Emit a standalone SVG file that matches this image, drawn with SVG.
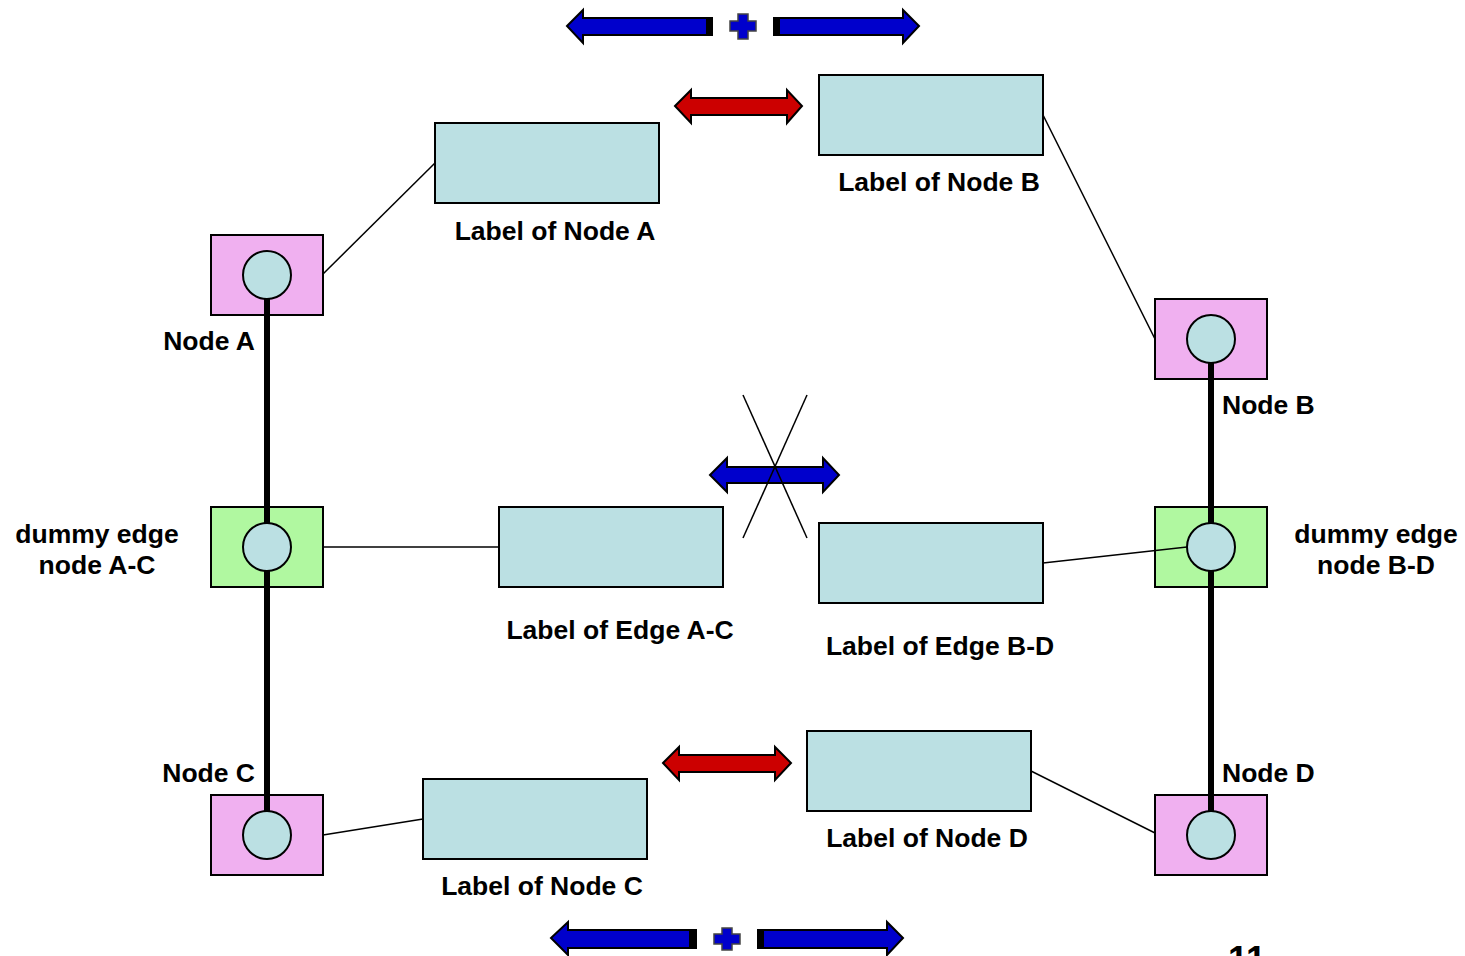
<svg xmlns="http://www.w3.org/2000/svg" width="1465" height="956" viewBox="0 0 1465 956">
<style>
.bg{fill:#ffffff}
.pink{fill:#F0B0F0;stroke:#000;stroke-width:2}
.green{fill:#B0F8A0;stroke:#000;stroke-width:2}
.lbl{fill:#BBE0E3;stroke:#000;stroke-width:2}
.circ{fill:#BBE0E3;stroke:#000;stroke-width:2}
.thin{stroke:#000;stroke-width:1.5;fill:none}
.thick{stroke:#000;stroke-width:6;fill:none}
.t{font-family:"Liberation Sans",Arial,sans-serif;font-weight:bold;font-size:26.5px;fill:#000}
.blue{fill:#0000CC;stroke:#000;stroke-width:2;stroke-linejoin:miter}
.red{fill:#CC0000;stroke:#000;stroke-width:2}
.plus{fill:#0000CC;stroke:#444;stroke-width:1.5}
.blk{fill:#000}
</style>
<rect class="bg" x="0" y="0" width="1465" height="956"/>

<g id="nodeA"><rect class="pink" x="211" y="235" width="112" height="80"/><text class="t" x="255" y="350" text-anchor="end">Node A</text></g>
<g id="dummyAC"><rect class="green" x="211" y="507" width="112" height="80"/><text class="t" x="97" y="543" text-anchor="middle">dummy edge</text><text class="t" x="97" y="574" text-anchor="middle">node A-C</text></g>
<g id="nodeC"><rect class="pink" x="211" y="795" width="112" height="80"/><text class="t" x="255" y="782" text-anchor="end">Node C</text></g>
<g id="nodeB"><rect class="pink" x="1155" y="299" width="112" height="80"/><text class="t" x="1222" y="414">Node B</text></g>
<g id="dummyBD"><rect class="green" x="1155" y="507" width="112" height="80"/><text class="t" x="1376" y="543" text-anchor="middle">dummy edge</text><text class="t" x="1376" y="574" text-anchor="middle">node B-D</text></g>
<g id="nodeD"><rect class="pink" x="1155" y="795" width="112" height="80"/><text class="t" x="1222" y="782">Node D</text></g>

<g id="connectors">
  <line class="thin" x1="323" y1="274" x2="435" y2="163"/>
  <line class="thin" x1="1043" y1="115" x2="1155" y2="339"/>
  <line class="thin" x1="323" y1="547" x2="499" y2="547"/>
  <line class="thin" x1="1043" y1="563" x2="1187" y2="547"/>
  <line class="thin" x1="323" y1="835" x2="423" y2="819"/>
  <line class="thin" x1="1031" y1="771" x2="1155" y2="833"/>
  <line class="thick" x1="267" y1="275" x2="267" y2="835"/>
  <line class="thick" x1="1211" y1="339" x2="1211" y2="835"/>
</g>

<g id="circles">
  <circle class="circ" cx="267" cy="275" r="24"/>
  <circle class="circ" cx="267" cy="547" r="24"/>
  <circle class="circ" cx="267" cy="835" r="24"/>
  <circle class="circ" cx="1211" cy="339" r="24"/>
  <circle class="circ" cx="1211" cy="547" r="24"/>
  <circle class="circ" cx="1211" cy="835" r="24"/>
</g>

<g id="labelNodeA"><rect class="lbl" x="435" y="123" width="224" height="80"/><text class="t" x="555" y="240" text-anchor="middle">Label of Node A</text></g>
<g id="labelNodeB"><rect class="lbl" x="819" y="75" width="224" height="80"/><text class="t" x="939" y="191" text-anchor="middle">Label of Node B</text></g>
<g id="labelEdgeAC"><rect class="lbl" x="499" y="507" width="224" height="80"/><text class="t" x="620" y="639" text-anchor="middle">Label of Edge A-C</text></g>
<g id="labelEdgeBD"><rect class="lbl" x="819" y="523" width="224" height="80"/><text class="t" x="940" y="655" text-anchor="middle">Label of Edge B-D</text></g>
<g id="labelNodeD"><rect class="lbl" x="807" y="731" width="224" height="80"/><text class="t" x="927" y="847" text-anchor="middle">Label of Node D</text></g>
<g id="labelNodeC"><rect class="lbl" x="423" y="779" width="224" height="80"/><text class="t" x="542" y="895" text-anchor="middle">Label of Node C</text></g>

<g id="arrowsTop">
  <polygon class="blue" points="567,26 583,10 583,18 712,18 712,35 583,35 583,43"/>
  <rect class="blk" x="706" y="18" width="6" height="17"/>
  <path class="plus" d="M738,14 H748 V21 H756 V31 H748 V39 H738 V31 H730 V21 H738 Z"/>
  <polygon class="blue" points="919,26 903,10 903,18 774,18 774,35 903,35 903,43"/>
  <rect class="blk" x="774" y="18" width="6" height="17"/>
</g>

<g id="arrowsBottom">
  <polygon class="blue" points="551,938 568,922 568,930 696,930 696,948 568,948 568,955"/>
  <rect class="blk" x="689" y="930" width="7" height="18"/>
  <path class="plus" d="M722,928 H732 V934 H740 V944 H732 V950 H722 V944 H714 V934 H722 Z"/>
  <polygon class="blue" points="903,938 887,922 887,930 758,930 758,948 887,948 887,955"/>
  <rect class="blk" x="758" y="930" width="6" height="18"/>
</g>

<g id="redArrows">
  <polygon class="red" points="675,106 691,90 691,98 787,98 787,90 802,106 787,123 787,115 691,115 691,123"/>
  <polygon class="red" points="663,763 679,747 679,755 775,755 775,747 791,763 775,780 775,772 679,772 679,780"/>
</g>

<g id="crossedArrow">
  <polygon class="blue" points="710,475 727,458 727,467 823,467 823,458 839,475 823,492 823,483 727,483 727,492"/>
  <line class="thin" x1="743" y1="395" x2="807" y2="538"/>
  <line class="thin" x1="807" y1="395" x2="743" y2="538"/>
</g>

<text class="t" x="1228" y="972" style="font-size:36px">11</text>
</svg>
